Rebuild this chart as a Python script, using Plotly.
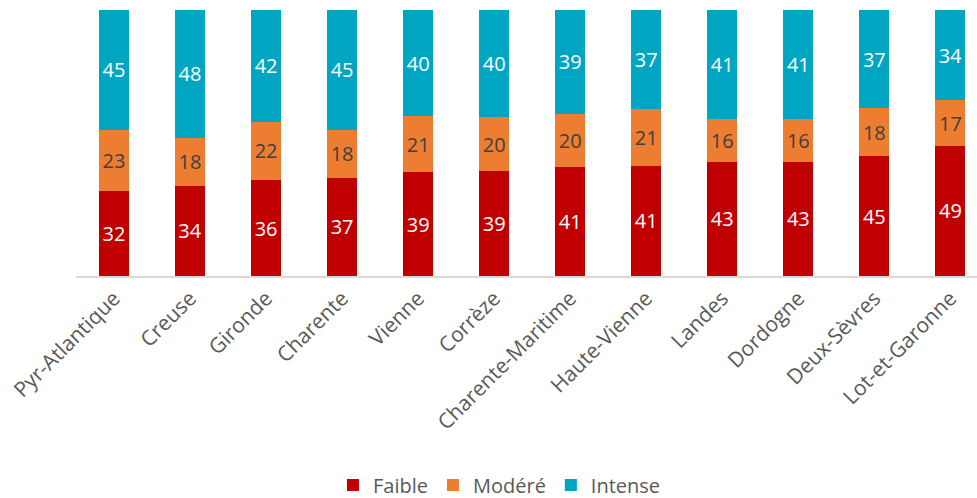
import plotly.graph_objects as go

categories = ["Pyr-Atlantique", "Creuse", "Gironde", "Charente", "Vienne", "Corrèze",
              "Charente-Maritime", "Haute-Vienne", "Landes", "Dordogne", "Deux-Sèvres", "Lot-et-Garonne"]
faible = [32, 34, 36, 37, 39, 39, 41, 41, 43, 43, 45, 49]
modere = [23, 18, 22, 18, 21, 20, 20, 21, 16, 16, 18, 17]
intense = [45, 48, 42, 45, 40, 40, 39, 37, 41, 41, 37, 34]

FONT = "Open Sans"
series = [
    ("Faible", faible, "#C00000", "white"),
    ("Modéré", modere, "#ED7D31", "#404040"),
    ("Intense", intense, "#00A6C1", "white"),
]

fig = go.Figure()
for name, vals, color, tcolor in series:
    fig.add_trace(go.Bar(
        x=categories, y=vals, name=name,
        marker=dict(color=color, line=dict(width=0)),
        text=[str(v) for v in vals], textposition="inside",
        insidetextanchor="middle", textangle=0, constraintext="none",
        textfont=dict(family=FONT, size=20, color=tcolor),
        hoverinfo="skip",
    ))

fig.update_layout(
    barmode="stack", barnorm="percent", bargap=0.605,
    width=977, height=498,
    margin=dict(l=76, r=0, t=10, b=222, autoexpand=False),
    plot_bgcolor="white", paper_bgcolor="white",
    font=dict(family=FONT, size=20, color="#595959"),
    showlegend=True,
    legend=dict(orientation="h", x=0.47, xanchor="center", y=-0.786, yanchor="middle",
                font=dict(family=FONT, size=20, color="#595959"),
                traceorder="normal", itemwidth=30, tracegroupgap=0),
    uniformtext=dict(mode=False),
)
fig.update_xaxes(range=[-0.5, 11.35], tickangle=-45, showline=True, linecolor="#D9D9D9",
                 linewidth=1.5, ticks="", showgrid=False, automargin=False,
                 tickfont=dict(family=FONT, size=21, color="#595959"))
fig.update_yaxes(range=[0, 100], visible=False, showgrid=False, automargin=False)

fig.write_html("out.html", config={"displayModeBar": False},
               post_script="document.body.style.margin='0';document.body.style.overflow='hidden';")
